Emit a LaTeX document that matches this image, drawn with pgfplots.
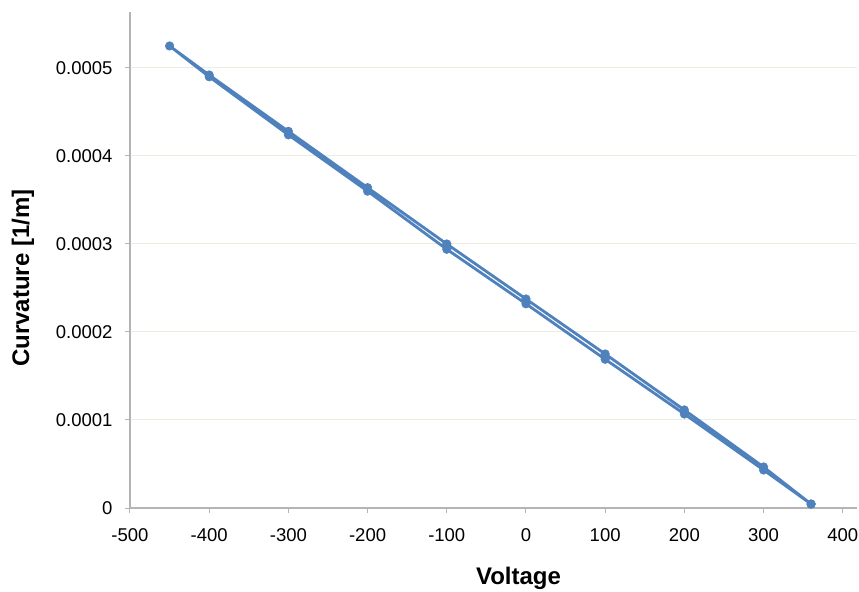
\documentclass[border=0pt]{standalone}
\usepackage{fontspec}
\setmainfont{Liberation Sans}
\usepackage{pgfplots}
\pgfplotsset{compat=1.18}
\definecolor{ser}{RGB}{79,129,189}
\definecolor{gridc}{RGB}{236,236,224}
\definecolor{axc}{RGB}{180,180,180}
\begin{document}
\begin{tikzpicture}
\begin{axis}[
  at={(0,0)}, anchor=south west,
  scale only axis, width=727bp, height=496bp,
  xmin=-500, xmax=418, ymin=0, ymax=0.0005636,
  xtick={-500,-400,...,400},
  ytick={0,0.0001,0.0002,0.0003,0.0004,0.0005},
  scaled y ticks=false,
  yticklabel style={/pgf/number format/fixed,/pgf/number format/precision=4, xshift=-9bp},
  xticklabel style={yshift=-12bp},
  /pgf/number format/assume math mode=true,
  tick label style={font=\fontsize{18.5bp}{20bp}\selectfont, text=black},
  axis lines=left,
  axis line style={-, draw=axc, line width=1.2bp},
  tick align=outside,
  major tick length=5bp,
  tick style={draw=axc, line width=1bp},
  ymajorgrids,
  grid style={draw=gridc, line width=1bp},
  clip=false,
]
\addplot[color=ser, line width=2.8bp, mark=*, mark size=4.3bp, mark options={fill=ser, draw=ser, line width=0.5bp}] coordinates {
(360,0.0000045)
(300,0.0000466)
(200,0.0001114)
(100,0.000175)
(0,0.0002375)
(-100,0.0003)
(-200,0.000364)
(-300,0.000428)
(-400,0.000492)
(-450,0.000525)
(-400,0.000490)
(-300,0.000424)
(-200,0.000360)
(-100,0.000294)
(0,0.000232)
(100,0.000169)
(200,0.0001068)
(300,0.0000432)
(360,0.0000045)
};
\end{axis}
\node[font=\fontsize{24bp}{26bp}\selectfont\bfseries] at (388.5bp,-70bp) {Voltage};
\node[font=\fontsize{24bp}{26bp}\selectfont\bfseries, rotate=90] at (-107bp,230bp) {Curvature [1/m]};
\pgfresetboundingbox
\path[use as bounding box] (-130bp,-84bp) rectangle (729bp,508bp);
\end{tikzpicture}
\end{document}
